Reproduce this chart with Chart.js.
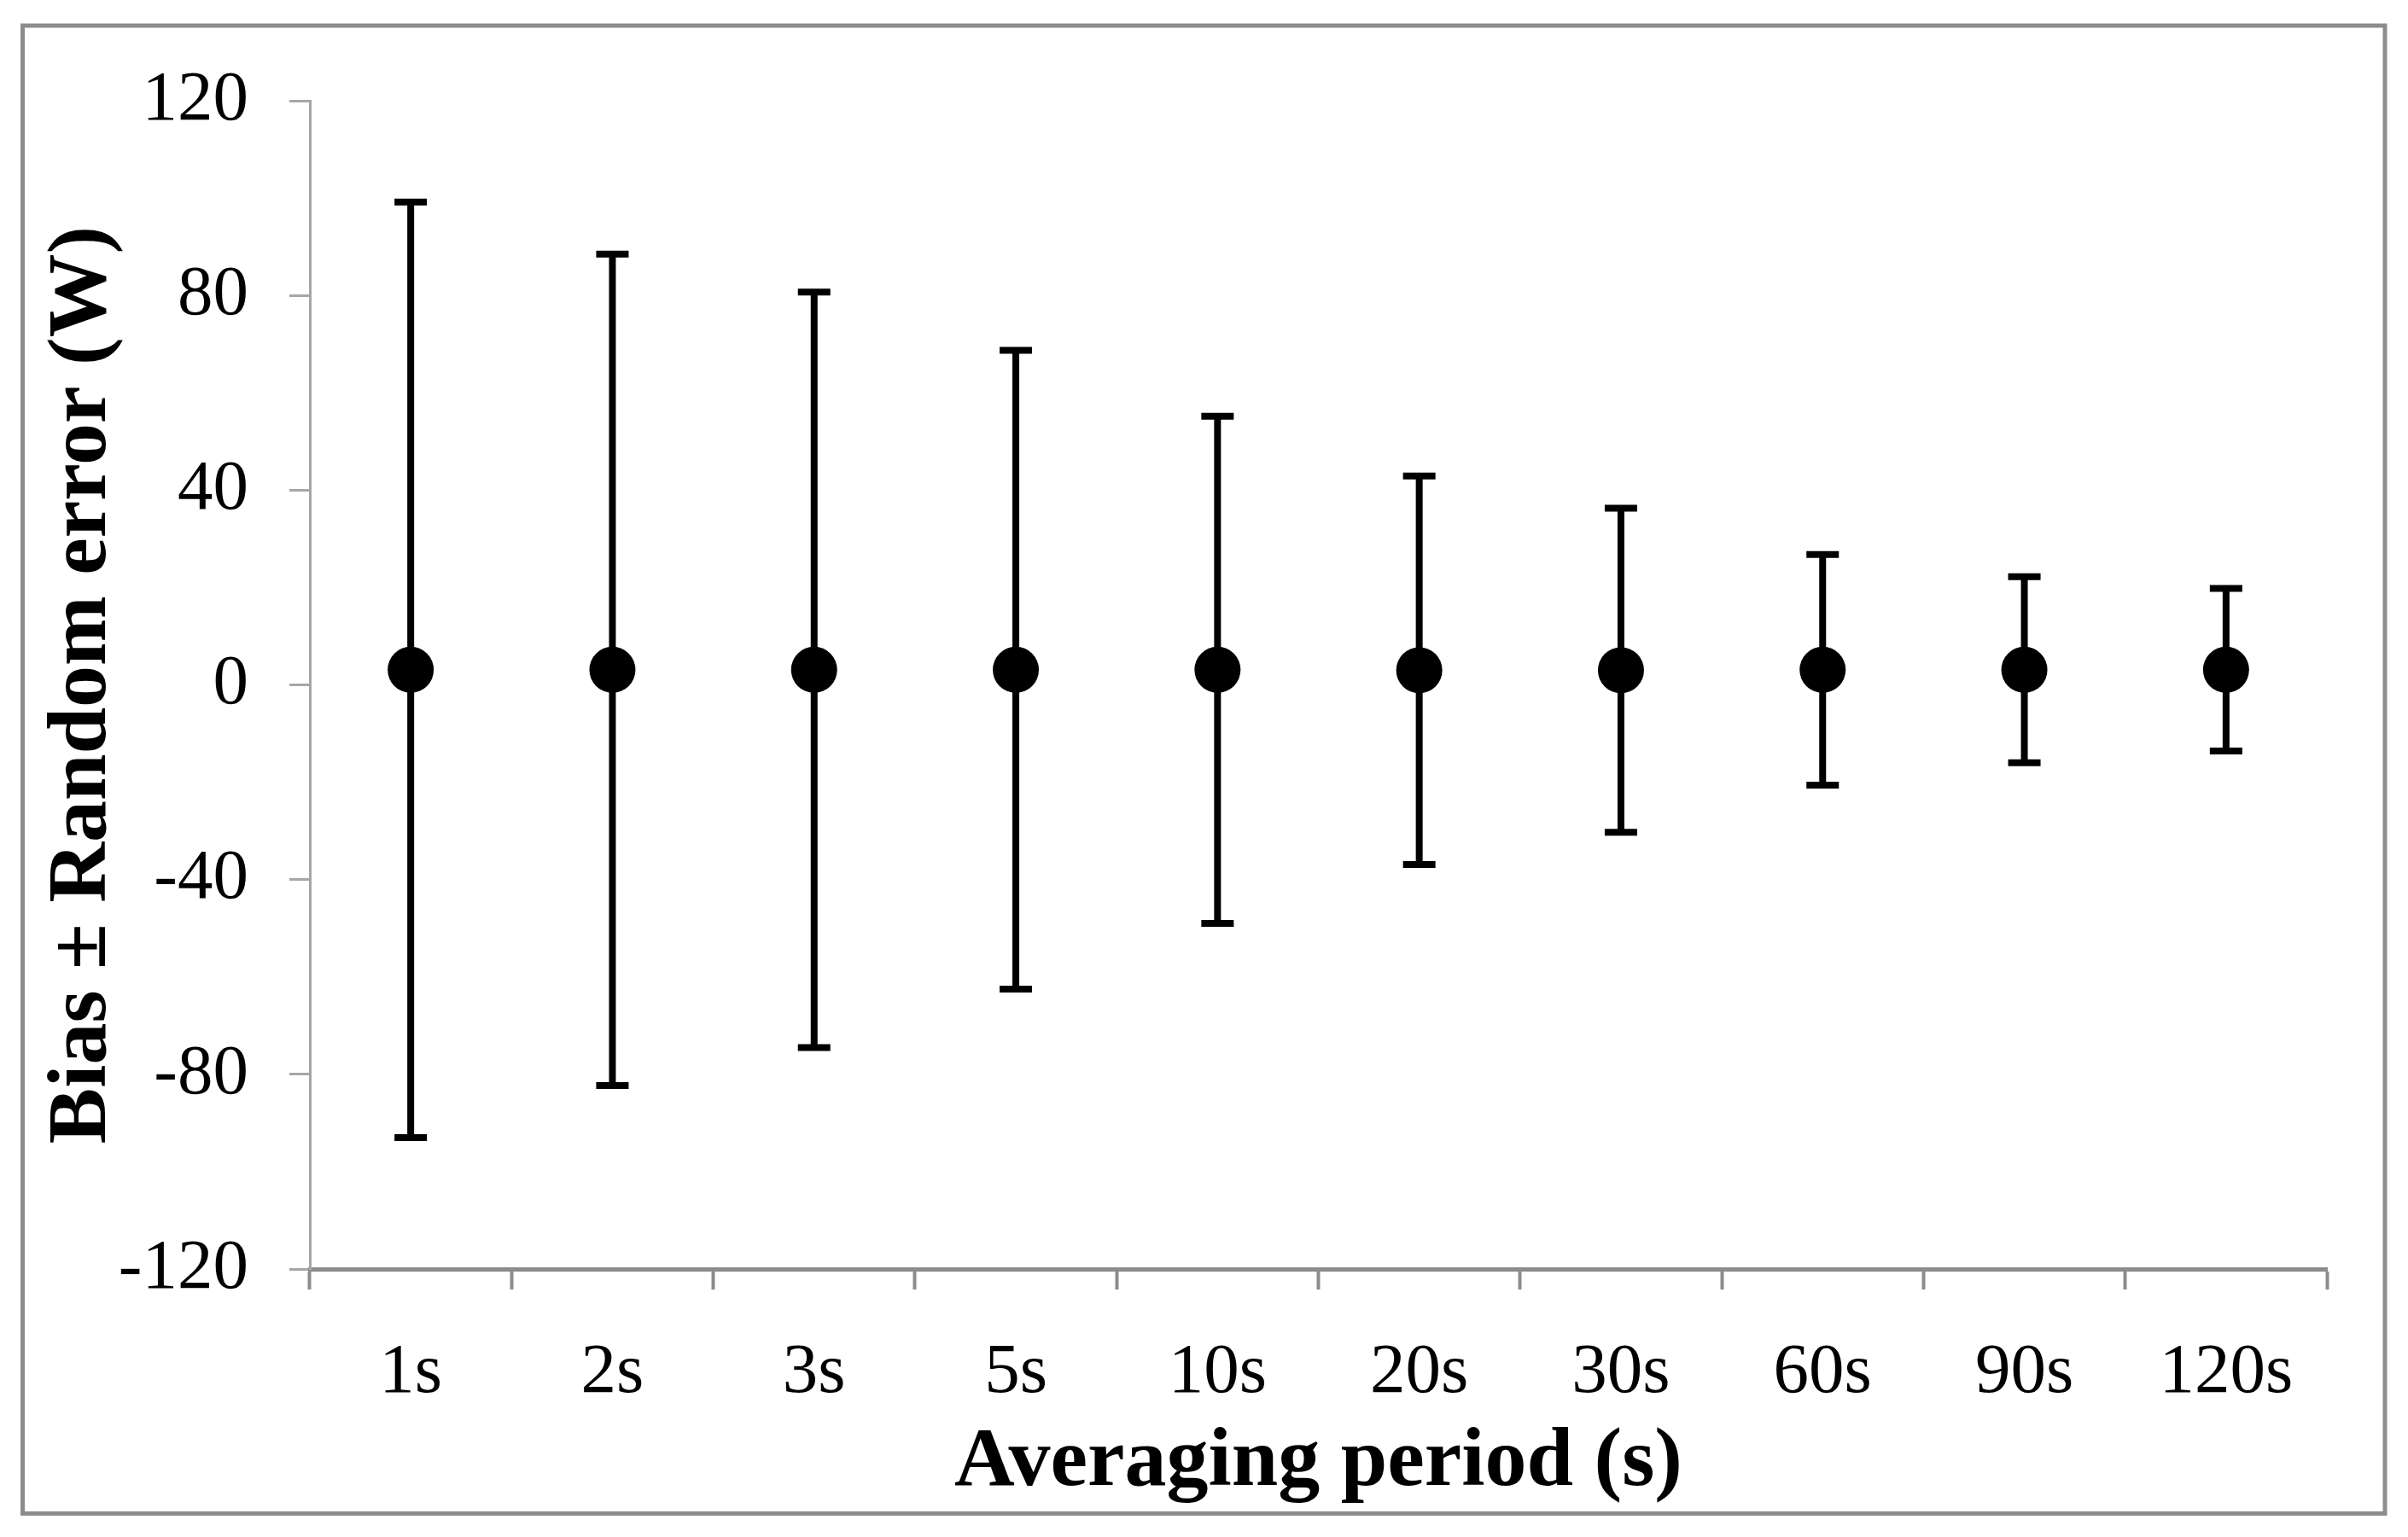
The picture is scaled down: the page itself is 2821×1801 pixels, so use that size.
<!DOCTYPE html>
<html>
<head>
<meta charset="utf-8">
<title>Bias ± Random error by averaging period</title>
<script src="https://cdn.jsdelivr.net/npm/chart.js@4.4.1/dist/chart.umd.min.js"></script>
<style>
  html, body { margin: 0; padding: 0; background: #ffffff; }
  canvas { display: block; }
</style>
</head>
<body>
<canvas id="errorChart" width="2821" height="1801"></canvas>
<script>
// Averaging periods (x categories)
const periods = ['1s', '2s', '3s', '5s', '10s', '20s', '30s', '60s', '90s', '120s'];
// Bias (W) - the dot
const bias = [3.1, 3.1, 3.1, 3.1, 3.1, 3.0, 3.0, 3.1, 3.1, 3.1];
// Random error (W) - half length of each bar
const randomError = [96.1, 85.4, 77.6, 65.6, 52.1, 39.9, 33.3, 23.7, 19.1, 16.7];
// y axis ticks
const yTicks = [-120, -80, -40, 0, 40, 80, 120];

const SERIF = "'Liberation Serif', 'Times New Roman', serif";

// error bars drawn under the dots, through the y scale
const errorBars = {
    id: 'errorBars',
    beforeDatasetsDraw(chart) {
        const ctx = chart.ctx;
        const y = chart.scales.y;
        const meta = chart.getDatasetMeta(0);
        ctx.save();
        ctx.strokeStyle = '#000000';
        ctx.lineWidth = 8;
        ctx.lineCap = 'butt';
        meta.data.forEach((pt, i) => {
            const top = y.getPixelForValue(bias[i] + randomError[i]);
            const bottom = y.getPixelForValue(bias[i] - randomError[i]);
            const cap = 19;
            ctx.beginPath();
            ctx.moveTo(pt.x, top);
            ctx.lineTo(pt.x, bottom);
            ctx.moveTo(pt.x - cap, top);
            ctx.lineTo(pt.x + cap, top);
            ctx.moveTo(pt.x - cap, bottom);
            ctx.lineTo(pt.x + cap, bottom);
            ctx.stroke();
        });
        ctx.restore();
    }
};

// white background and the grey frame around the whole figure
const frame = {
    id: 'frame',
    beforeDraw(chart) {
        const ctx = chart.ctx;
        ctx.save();
        ctx.fillStyle = '#ffffff';
        ctx.fillRect(0, 0, chart.width, chart.height);
        ctx.strokeStyle = '#8c8c8c';
        ctx.lineWidth = 5;
        ctx.strokeRect(26.5, 30, 2767.5, 1743.5);
        ctx.restore();
    }
};

new Chart(document.getElementById('errorChart').getContext('2d'), {
    type: 'line',
    data: {
        labels: periods,
        datasets: [{
            label: 'Bias',
            data: bias,
            showLine: false,
            pointRadius: 27,
            pointBackgroundColor: '#000000',
            pointBorderColor: '#000000',
            pointBorderWidth: 0
        }]
    },
    options: {
        responsive: false,
        animation: false,
        devicePixelRatio: 1,
        layout: { padding: { top: 118, right: 95, left: 0, bottom: 0 } },
        plugins: {
            legend: { display: false },
            tooltip: { enabled: false }
        },
        scales: {
            x: {
                type: 'category',
                offset: true,
                afterFit(scale) { scale.height = 314; },
                grid: {
                    offset: true,
                    drawOnChartArea: false,
                    drawTicks: true,
                    tickLength: 24,
                    tickColor: '#8c8c8c',
                    tickWidth: 4
                },
                border: { display: true, color: '#8c8c8c', width: 5 },
                ticks: {
                    color: '#000000',
                    padding: 48,
                    maxRotation: 0,
                    autoSkip: false,
                    font: { family: SERIF, size: 83 }
                },
                title: {
                    display: true,
                    text: 'Averaging period (s)',
                    color: '#000000',
                    padding: { top: 0, bottom: 28 },
                    font: { family: SERIF, size: 98, weight: 'bold' }
                }
            },
            y: {
                min: yTicks[0],
                max: yTicks[yTicks.length - 1],
                afterFit(scale) { scale.width = 363; },
                afterBuildTicks(scale) { scale.ticks = yTicks.map(v => ({ value: v })); },
                grid: {
                    drawOnChartArea: false,
                    drawTicks: true,
                    tickLength: 24,
                    tickColor: '#a6a6a6',
                    tickWidth: 3
                },
                border: { display: true, color: '#a6a6a6', width: 3 },
                ticks: {
                    color: '#000000',
                    padding: 48,
                    font: { family: SERIF, size: 83 }
                },
                title: {
                    display: true,
                    text: 'Bias ± Random error (W)',
                    color: '#000000',
                    padding: { top: 39, bottom: 0 },
                    font: { family: SERIF, size: 98, weight: 'bold' }
                }
            }
        }
    },
    plugins: [frame, errorBars]
});
</script>
</body>
</html>
